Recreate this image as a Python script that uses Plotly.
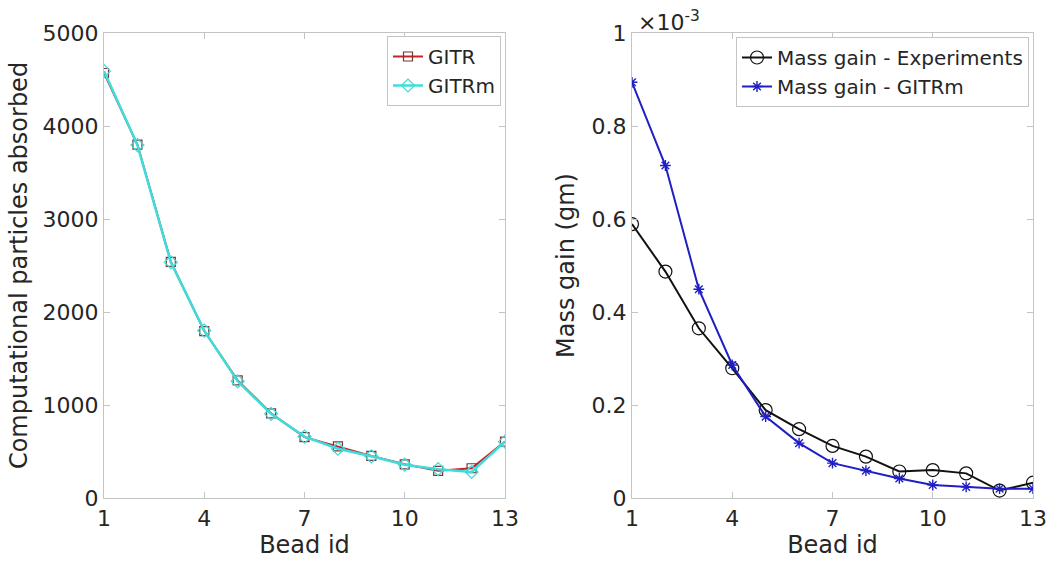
import plotly.graph_objects as go

bead_id = list(range(1, 14))
gitr_particles = [4570, 3800, 2540, 1795, 1265, 910, 655, 555, 452, 362, 292, 320, 606]
gitrm_particles = [4590, 3795, 2535, 1800, 1255, 905, 660, 530, 448, 358, 310, 280, 606]

mass_exp = [0.589e-3, 0.487e-3, 0.365e-3, 0.279e-3, 0.189e-3, 0.148e-3, 0.112e-3,
            0.089e-3, 0.057e-3, 0.060e-3, 0.053e-3, 0.016e-3, 0.033e-3]
mass_gitrm = [0.894e-3, 0.715e-3, 0.449e-3, 0.286e-3, 0.175e-3, 0.118e-3, 0.075e-3,
              0.059e-3, 0.042e-3, 0.028e-3, 0.024e-3, 0.020e-3, 0.020e-3]

x_ticks = [1, 4, 7, 10, 13]
left_y_ticks = [0, 1000, 2000, 3000, 4000, 5000]
right_y_ticks = [0, 0.2e-3, 0.4e-3, 0.6e-3, 0.8e-3, 1e-3]
right_y_ticklabels = ["0", "0.2", "0.4", "0.6", "0.8", "1"]

FONT = "DejaVu Sans"
TXT = "#262626"
AX = "#c4c4c4"
TICK_SIZE = 22
TITLE_SIZE = 24
LEG_SIZE = 20

fig = go.Figure()
fig.add_trace(go.Scatter(x=bead_id, y=gitr_particles, name="GITR", mode="lines+markers",
                         line=dict(color="#c8232c", width=2),
                         marker=dict(symbol="square-open", size=9, color="#7a3535", line=dict(width=1.2)),
                         xaxis="x", yaxis="y", legend="legend"))
fig.add_trace(go.Scatter(x=bead_id, y=gitrm_particles, name="GITRm", mode="lines+markers",
                         line=dict(color="#3fdcdc", width=2.5),
                         marker=dict(symbol="diamond-open", size=10, color="#3fdcdc", line=dict(width=1.2)),
                         xaxis="x", yaxis="y", legend="legend"))
fig.add_trace(go.Scatter(x=bead_id, y=mass_exp, name="Mass gain - Experiments", mode="lines+markers",
                         line=dict(color="#111111", width=2),
                         marker=dict(symbol="circle-open", size=13, color="#111111", line=dict(width=1.2)),
                         xaxis="x2", yaxis="y2", legend="legend2"))
fig.add_trace(go.Scatter(x=bead_id, y=mass_gitrm, name="Mass gain - GITRm", mode="lines+markers",
                         line=dict(color="#1f1fc4", width=2),
                         marker=dict(symbol="asterisk-open", size=9, color="#1f1fc4", line=dict(width=1.4)),
                         xaxis="x2", yaxis="y2", legend="legend2"))

axis_common = dict(showline=True, linecolor=AX, linewidth=1.2, mirror="ticks", ticks="inside",
                   ticklen=6, tickcolor=AX, showgrid=False, zeroline=False, automargin=False,
                   tickfont=dict(family=FONT, size=TICK_SIZE, color=TXT))

y0 = (565 - 498) / 565
y1 = (565 - 33) / 565

fig.update_layout(
    width=1050, height=565,
    margin=dict(l=0, r=0, t=0, b=0),
    paper_bgcolor="white", plot_bgcolor="white",
    font=dict(family=FONT, color=TXT),
    xaxis=dict(domain=[104/1050, 505/1050], range=[1, 13], tickvals=x_ticks, anchor="y",
               title=dict(text="Bead id", font=dict(family=FONT, size=TITLE_SIZE, color=TXT), standoff=6),
               **axis_common),
    yaxis=dict(domain=[y0, y1], range=[0, 5000], tickvals=left_y_ticks, anchor="x",
               title=dict(text="Computational particles absorbed", font=dict(family=FONT, size=TITLE_SIZE, color=TXT), standoff=8),
               **axis_common),
    xaxis2=dict(domain=[632/1050, 1033/1050], range=[1, 13], tickvals=x_ticks, anchor="y2",
                title=dict(text="Bead id", font=dict(family=FONT, size=TITLE_SIZE, color=TXT), standoff=6),
                **axis_common),
    yaxis2=dict(domain=[y0, y1], range=[0, 1e-3], tickvals=right_y_ticks,
                ticktext=right_y_ticklabels, anchor="x2",
                title=dict(text="Mass gain (gm)", font=dict(family=FONT, size=TITLE_SIZE, color=TXT), standoff=10),
                **axis_common),
    legend=dict(x=501/1050, xanchor="right", y=(565-36)/565, yanchor="top",
                bgcolor="white", bordercolor=AX, borderwidth=1,
                font=dict(family=FONT, size=LEG_SIZE, color=TXT), tracegroupgap=0,
                itemwidth=30),
    legend2=dict(x=1029/1050, xanchor="right", y=(565-37)/565, yanchor="top",
                 bgcolor="white", bordercolor=AX, borderwidth=1,
                 font=dict(family=FONT, size=LEG_SIZE, color=TXT), tracegroupgap=0,
                 itemwidth=30),
    showlegend=True,
)

fig.add_annotation(text="\u00d710<sup>-3</sup>", x=636/1050, y=y1, xref="paper", yref="paper",
                   xanchor="left", yanchor="bottom", showarrow=False, yshift=-4,
                   font=dict(family=FONT, size=TICK_SIZE, color=TXT))

fig.write_html("out.html")
